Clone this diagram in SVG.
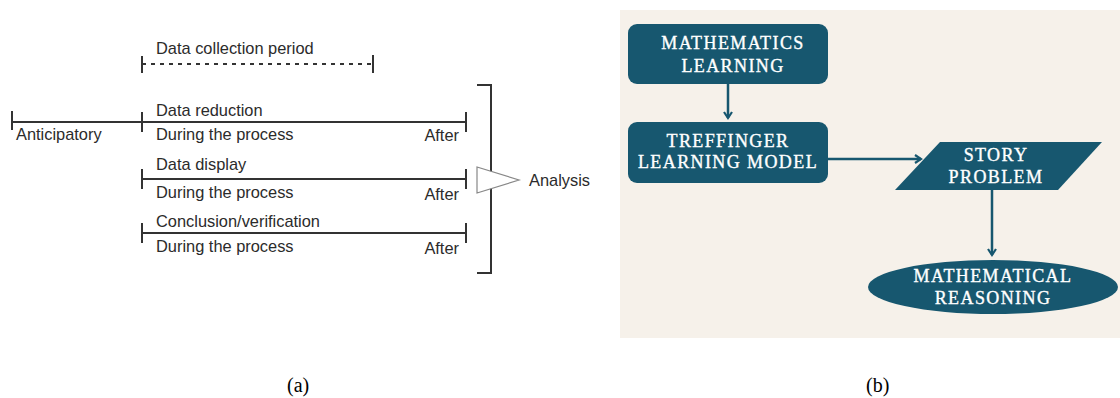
<svg xmlns="http://www.w3.org/2000/svg" width="1120" height="398" viewBox="0 0 1120 398">
<style>
.t{font-family:"Liberation Sans",Arial,sans-serif;font-size:16.4px;fill:#2b2b2b}
.ln{stroke:#333;stroke-width:2;fill:none}
.nd{fill:#17576f}
.w{font-family:"Liberation Serif","Times New Roman",serif;font-size:18px;fill:#fff;stroke:#fff;stroke-width:0.35;text-anchor:middle;letter-spacing:1.4px}
.cn{stroke:#17576f;stroke-width:2.5;fill:none}
.cap{font-family:"Liberation Serif","Times New Roman",serif;font-size:20px;fill:#000}
</style>
<defs>
<marker id="ah" markerWidth="10" markerHeight="10" refX="7" refY="5" orient="auto" markerUnits="userSpaceOnUse">
<path d="M1,1 L7,5 L1,9" fill="none" stroke="#17576f" stroke-width="2.2"/>
</marker>
</defs>
<rect width="1120" height="398" fill="#fff"/>
<g id="panel-a">
<g id="collection">
<line x1="142" y1="64" x2="373" y2="64" stroke="#333" stroke-width="2" stroke-dasharray="4,5"/>
<line class="ln" x1="142" y1="56" x2="142" y2="73"/>
<line class="ln" x1="373" y1="55" x2="373" y2="73"/>
<text class="t" x="156" y="54">Data collection period</text>
</g>
<g id="reduction">
<line class="ln" x1="12" y1="122" x2="466" y2="122"/>
<line class="ln" x1="12" y1="111" x2="12" y2="130"/>
<line class="ln" x1="142" y1="112" x2="142" y2="132"/>
<line class="ln" x1="466" y1="112" x2="466" y2="132"/>
<text class="t" x="16" y="140">Anticipatory</text>
<text class="t" x="156" y="116">Data reduction</text>
<text class="t" x="156" y="140">During the process</text>
<text class="t" x="459" y="141" text-anchor="end">After</text>
</g>
<g id="display">
<line class="ln" x1="142" y1="179" x2="466" y2="179"/>
<line class="ln" x1="142" y1="169" x2="142" y2="189"/>
<line class="ln" x1="466" y1="169" x2="466" y2="189"/>
<text class="t" x="156" y="170">Data display</text>
<text class="t" x="156" y="198">During the process</text>
<text class="t" x="459" y="200" text-anchor="end">After</text>
</g>
<g id="conclusion">
<line class="ln" x1="142" y1="233" x2="466" y2="233"/>
<line class="ln" x1="142" y1="223" x2="142" y2="243"/>
<line class="ln" x1="466" y1="223" x2="466" y2="243"/>
<text class="t" x="156" y="227">Conclusion/verification</text>
<text class="t" x="156" y="252">During the process</text>
<text class="t" x="459" y="254" text-anchor="end">After</text>
</g>
<g id="analysis">
<path class="ln" d="M477,85 H491 V273 H477"/>
<polygon points="477,167 477,193 519,180" fill="#fff" stroke="#888" stroke-width="1.2"/>
<text class="t" x="529" y="186">Analysis</text>
</g>
</g>
<g id="panel-b">
<rect x="620" y="10" width="500" height="328" fill="#f6f1ea"/>
<g id="connectors">
<line class="cn" x1="728" y1="84" x2="728" y2="118" marker-end="url(#ah)"/>
<line class="cn" x1="828" y1="159" x2="921" y2="159" marker-end="url(#ah)"/>
<line class="cn" x1="992" y1="190" x2="992" y2="255" marker-end="url(#ah)"/>
</g>
<g id="math-learning">
<rect class="nd" x="628" y="24" width="200" height="60" rx="9"/>
<text class="w" x="733" y="49">MATHEMATICS</text>
<text class="w" x="733" y="72">LEARNING</text>
</g>
<g id="treffinger">
<rect class="nd" x="628" y="122" width="200" height="61" rx="9"/>
<text class="w" x="728" y="147">TREFFINGER</text>
<text class="w" x="728" y="168">LEARNING MODEL</text>
</g>
<g id="story-problem">
<polygon class="nd" points="940,142 1102,142 1058,190 895,190"/>
<text class="w" x="996" y="161">STORY</text>
<text class="w" x="996" y="183">PROBLEM</text>
</g>
<g id="math-reasoning">
<ellipse class="nd" cx="993" cy="287" rx="125" ry="27"/>
<text class="w" x="993" y="282">MATHEMATICAL</text>
<text class="w" x="993" y="304">REASONING</text>
</g>
</g>
<text class="cap" x="287" y="392">(a)</text>
<text class="cap" x="866" y="392">(b)</text>
</svg>
